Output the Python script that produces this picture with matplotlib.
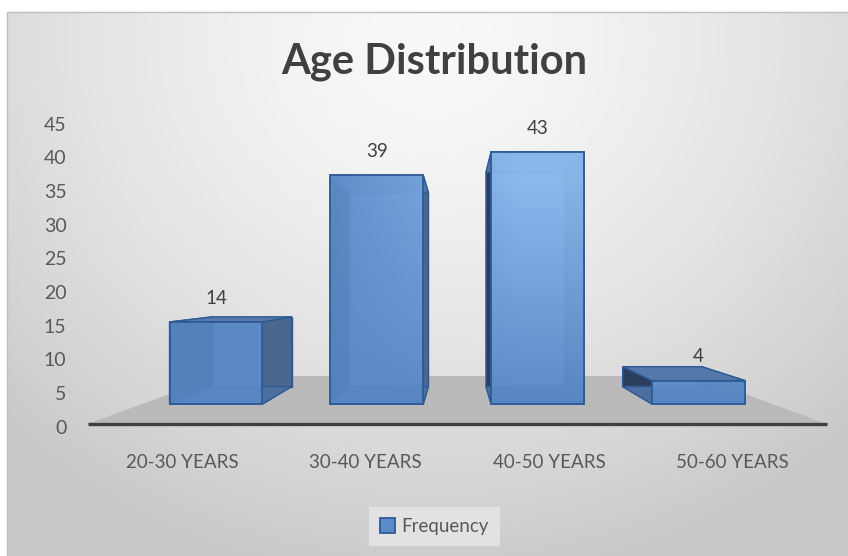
import numpy as np
import matplotlib
matplotlib.use("Agg")
import matplotlib.pyplot as plt
from matplotlib.patches import Polygon, Patch, Rectangle

plt.rcParams['font.family'] = ['Lato', 'DejaVu Sans']

# ---------------- data ----------------
categories = ["20-30 YEARS", "30-40 YEARS", "40-50 YEARS", "50-60 YEARS"]
frequency = [14, 39, 43, 4]
yticks = [0, 5, 10, 15, 20, 25, 30, 35, 40, 45]
series_name = "Frequency"
title = "Age Distribution"

# ---------------- layout constants (pixels) ----------------
W, H = 848, 556
PX0, DX = 216.0, 160.8      # x pixel of first category centre, px per category
PY0, DY = 404.0, 5.86       # y pixel of value 0 on the front plane, px per unit
AX0, ADY = 426.5, 6.733     # value-axis labels: pixel of 0, px per unit
VXP, VYP = 457.0, 288.0     # vanishing point in pixels
S_BACK = 0.85               # depth scale of bar back faces
S_FLOOR_F, S_FLOOR_B = 1.172, 0.759
S_LABEL = 1.14
BAR_W = 0.578

fig = plt.figure(figsize=(W / 100, H / 100), dpi=100)
fig.patch.set_facecolor("white")

# ---------------- background (radial gradient) ----------------
bg = fig.add_axes([7 / W, 0, (W - 7) / W, (H - 12) / H])
yy, xx = np.mgrid[12:H, 7:W]
d = np.hypot(xx - 430, (yy - 40) * 1.1)
val = np.clip(0.975 - 0.17 * (d / 560) ** 1.5, 0.79, 1)
bg.imshow(np.dstack([val, val, val]), aspect="auto", extent=(0, 1, 0, 1))
bg.set_axis_off()
fig.patches.append(Rectangle((7 / W, -0.01), (W - 7) / W + 0.01, (H - 12) / H + 0.01,
                             transform=fig.transFigure, fill=False,
                             edgecolor="#BDBDBD", lw=1.0))

# ---------------- main axes (front-plane data coordinates) ----------------
ax = fig.add_axes([0, 0, 1, 1])
ax.patch.set_alpha(0)
xlim = (-PX0 / DX, (W - PX0) / DX)
ylim = ((PY0 - H) / DY, PY0 / DY)
ax.set_xlim(*xlim)
ax.set_ylim(*ylim)
ax.set_axis_off()

VX = (VXP - PX0) / DX
VY = (PY0 - VYP) / DY


def proj(x, y, s):
    return (VX + s * (x - VX), VY + s * (y - VY))


# floor
fl, fr = -0.46, 3.46
floor = [proj(fl, 0, S_FLOOR_F), proj(fr, 0, S_FLOOR_F),
         proj(fr, 0, S_FLOOR_B), proj(fl, 0, S_FLOOR_B)]
ax.add_patch(Polygon(floor, closed=True, facecolor="#BABABA", edgecolor="none", zorder=1))
(x1, y1), (x2, y2) = floor[0], floor[1]
ax.plot([x1, x2], [y1, y2], color="#404040", lw=2.4, solid_capstyle="butt", zorder=2)

# bar faces (behind the semi-transparent front face)
edge = "#2E5A95"
hw = BAR_W / 2
xs = np.arange(len(categories))
for i, v in zip(xs, frequency):
    fbl, fbr, ftr, ftl = (i - hw, 0), (i + hw, 0), (i + hw, v), (i - hw, v)
    bbl, bbr, btr, btl = [proj(px, py, S_BACK) for px, py in (fbl, fbr, ftr, ftl)]
    faces = [
        ([bbl, bbr, btr, btl], "#6A94CC"),          # back
        ([fbl, ftl, btl, bbl], "#2A3F5E"),          # left
        ([fbr, ftr, btr, bbr], "#4A6790"),          # right
        ([ftl, ftr, btr, btl], "#5478AA"),          # top
        ([fbl, fbr, bbr, bbl], "#4C6F9F"),          # bottom
    ]
    for pts, c in faces:
        ax.add_patch(Polygon(pts, closed=True, facecolor=c, edgecolor=edge,
                             lw=1.0, zorder=3))

# front faces with gradient
bars = ax.bar(xs, frequency, width=BAR_W, facecolor="none", edgecolor=edge,
              lw=1.3, zorder=5)
dark = np.array([88, 135, 198]) / 255
light = np.array([145, 190, 242]) / 255
gy, gx = np.mgrid[0:H, 0:W]
t = np.clip((gx - 300) / 220, 0, 1) * np.clip((PY0 - gy) / 240, 0, 1)
t = np.clip(t + 0.04, 0, 1)
grad = dark[None, None, :] * (1 - t[..., None]) + light[None, None, :] * t[..., None]
for b in bars:
    im = ax.imshow(grad, extent=(xlim[0], xlim[1], ylim[0], ylim[1]),
                   origin="upper", aspect="auto", alpha=0.9, zorder=4)
    im.set_clip_path(b)
ax.set_xlim(*xlim)
ax.set_ylim(*ylim)

# value labels
for i, v in zip(xs, frequency):
    ax.annotate(str(v), (i, v), xytext=(0, 17), textcoords="offset points",
                ha="center", va="center", fontsize=13.5, color="#404040", zorder=6)

# category labels
for i, lab in zip(xs, categories):
    px, py = proj(i, 0, S_LABEL)
    ax.annotate(lab, (px, 0), xycoords=("data", "data"), xytext=(0, -(462 - PY0) * 0.72),
                textcoords="offset points", ha="center", va="center",
                fontsize=13.5, color="#595959", zorder=6)

# value axis labels
ay = fig.add_axes([72 / W, 0, 0.01, 1])
ay.patch.set_alpha(0)
ay.set_ylim((AX0 - H) / ADY, AX0 / ADY)
ay.set_yticks(yticks)
ay.set_yticklabels([str(t_) for t_ in yticks], fontsize=14, color="#595959")
ay.tick_params(axis="y", length=0, pad=4)
ay.set_xticks([])
for sp in ay.spines.values():
    sp.set_visible(False)

# title
fig.text(434 / W, 1 - 62 / H, title, ha="center", va="center",
         fontsize=30, fontweight="bold", color="#404040")

# legend
handle = Patch(facecolor="#5B8BC8", edgecolor=edge, lw=1.3)
leg = fig.legend([handle], [series_name], loc="center",
                 bbox_to_anchor=(434.5 / W, 1 - 526.5 / H),
                 frameon=True, fancybox=False, facecolor="#E2E2E2", edgecolor="none",
                 handlelength=0.8, handleheight=0.8, handletextpad=0.35,
                 borderpad=0.6, fontsize=13.5, labelcolor="#595959")
leg.get_frame().set_alpha(1)

fig.savefig("out.png", dpi=100)
